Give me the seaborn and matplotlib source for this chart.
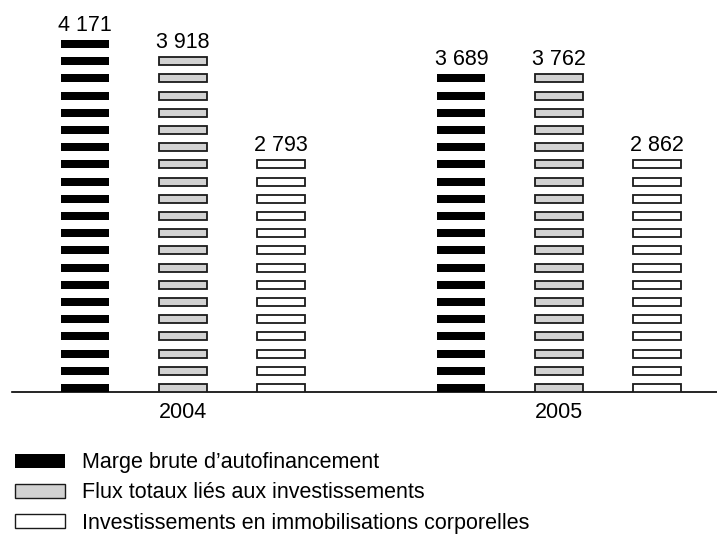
import numpy as np
import pandas as pd
import matplotlib.pyplot as plt
import seaborn as sns
from matplotlib.patches import Patch

# Données (en millions d'euros)
annees = ["2004", "2005"]
series = [
    "Marge brute d’autofinancement",
    "Flux totaux liés aux investissements",
    "Investissements en immobilisations corporelles",
]
marge_brute = [4171, 3689]
flux_invest = [3918, 3762]
immo_corp = [2793, 2862]

couleurs = ["#000000", "#d2d2d2", "#ffffff"]
bords = ["#000000", "#1a1a1a", "#1a1a1a"]

df = pd.DataFrame({
    "annee": annees * 3,
    "serie": [series[0]] * 2 + [series[1]] * 2 + [series[2]] * 2,
    "valeur": marge_brute + flux_invest + immo_corp,
})

sns.set_style("white")
plt.rcParams["font.family"] = ["Liberation Sans", "DejaVu Sans"]
plt.rcParams["text.color"] = "black"
plt.rcParams["xtick.color"] = "black"

fig = plt.figure(figsize=(7.17, 5.35), dpi=100)
ax = fig.add_axes([12 / 717, 143 / 535, 705 / 717, 392 / 535])

sns.barplot(data=df, x="annee", y="valeur", hue="serie", hue_order=series,
            palette=couleurs, width=0.78, gap=0.51, legend=False, ax=ax)

# pas des tranches (barres découpées en segments horizontaux)
PAS = 203.8
EPAIS = 94.8

conteneurs = list(ax.containers)
for i, cont in enumerate(conteneurs):
    for patch in cont.patches:
        patch.set_visible(False)
        x = patch.get_x() + patch.get_width() / 2
        w = patch.get_width()
        v = patch.get_height()
        bas = np.arange(0, v - 15, PAS)
        lw = 0 if i == 0 else 1.3
        ax.bar([x] * len(bas), [EPAIS] * len(bas), bottom=bas, width=w,
               color=couleurs[i], edgecolor=bords[i], linewidth=lw, zorder=3)
        haut = bas[-1] + EPAIS
        ax.annotate(f"{int(v):,}".replace(",", " "), (x, haut),
                    xytext=(0, 6.5), textcoords="offset points",
                    ha="center", va="baseline", fontsize=15.5, color="black")

ax.set_xlim(-0.455, 1.42)
ax.set_ylim(0, 4645)
ax.set_xlabel("")
ax.set_ylabel("")
ax.set_yticks([])
ax.tick_params(axis="x", length=0, pad=7, labelsize=15.5, labelcolor="black")
for s in ["top", "left", "right"]:
    ax.spines[s].set_visible(False)
ax.spines["bottom"].set_linewidth(1.2)
ax.spines["bottom"].set_color("#000000")

poignees = [Patch(facecolor=couleurs[i], edgecolor=bords[i],
                  linewidth=0 if i == 0 else 1.0) for i in range(3)]
fig.legend(poignees, series, loc="upper left", bbox_to_anchor=(9 / 717, 89 / 535),
           frameon=False, fontsize=15.5, handlelength=2.3, handleheight=0.6,
           handletextpad=0.8, labelspacing=0.42, borderaxespad=0, borderpad=0.3,
           labelcolor="black")

fig.savefig("out.png", dpi=100)
